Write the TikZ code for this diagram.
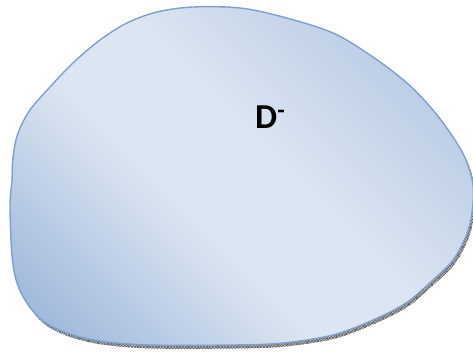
\documentclass[tikz,border=0pt]{standalone}
\usepackage{fontspec}
\setmainfont{Carlito}
\usetikzlibrary{patterns,decorations.markings}
\definecolor{edgeblue}{HTML}{7DA0CE}
\definecolor{darkfill}{HTML}{95B0D6}
\definecolor{midfill}{HTML}{DCE6F2}
\definecolor{topfill}{HTML}{AFC3E0}
\definecolor{tickcol}{HTML}{404858}
\pgfdeclarehorizontalshading{blobsh}{100bp}{color(0bp)=(darkfill); color(28bp)=(darkfill); color(46bp)=(midfill); color(54bp)=(midfill); color(72bp)=(topfill); color(100bp)=(topfill)}
\tikzset{
  blobline/.style={draw=edgeblue, line width=1.4pt},
  bandfill/.style={fill=gray!50},
  bandpat/.style={pattern=crosshatch, pattern color=gray!75!black},
  bandticks/.style={postaction={decorate, decoration={markings,
     mark=between positions 0.27 and 0.70 step 10pt with {\draw[tickcol, line width=0.5pt] (0,-2.5) -- (0,2.5);}}}},
}
\begin{document}
\begin{tikzpicture}[x=1pt,y=-1pt]
\useasboundingbox (0,0) rectangle (473,353);
\def\blobpath{plot[smooth cycle, tension=0.55] coordinates{
 (193,7) (240,8) (283,17) (333,33) (373,57) (407,83) (433,110) (453,137) (466,160) (473,185) (472,213) (466,236) (453,260) (433,280) (406,303) (373,320) (333,335) (283,343) (233,345) (150,345) (100,341) (67,333) (43,321) (27,303) (17,283) (12,256) (10,206) (12,180) (13,157) (18,133) (30,110) (50,87) (73,63) (100,40) (127,23) (157,12)}}
\begin{scope}[shift={(2,3.5)}]
\fill[bandfill] \blobpath;
\fill[bandpat] \blobpath;
\clip \blobpath;
\path[bandticks] \blobpath;
\end{scope}
\begin{scope}
\clip \blobpath;
\begin{scope}[transform canvas={shift={(240,195)}, rotate=45}]
\shade[shading=blobsh] (-300,-350) rectangle (300,350);
\end{scope}
\end{scope}
\draw[blobline] \blobpath;
\node[font=\fontsize{35}{40}\selectfont\bfseries, inner sep=0pt, anchor=base west] (lbl) at (255,128) {D\textsuperscript{-}};
\end{tikzpicture}
\end{document}
